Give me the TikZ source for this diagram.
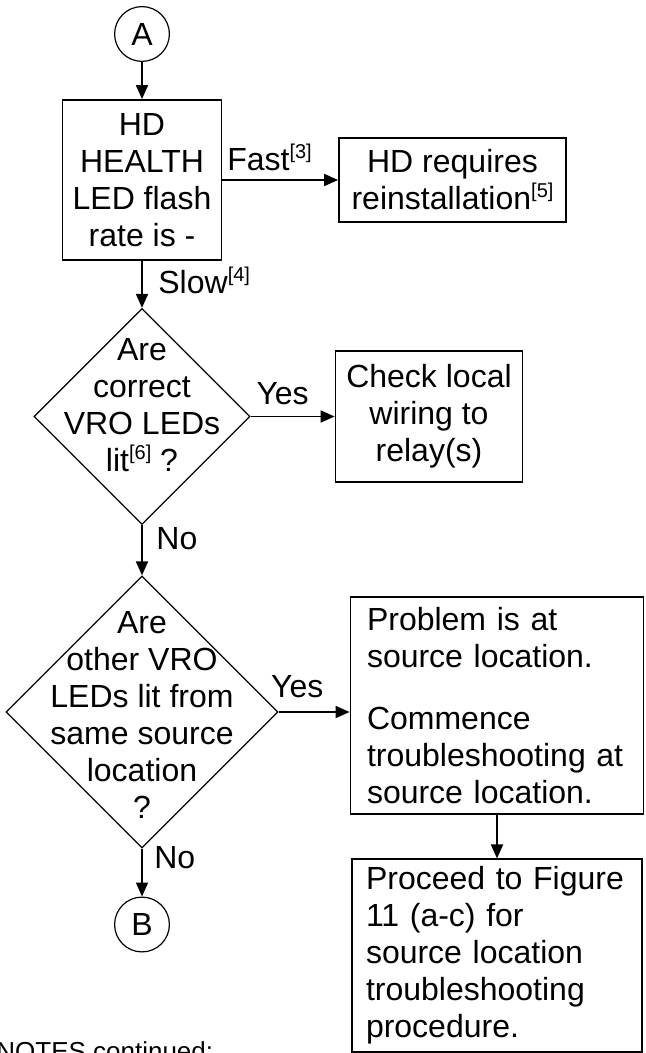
\documentclass[tikz,border=0pt]{standalone}
\usepackage{fontspec}
\setmainfont{Liberation Sans}
\usetikzlibrary{arrows.meta,shapes.geometric}

\newcommand{\refmark}[1]{\raisebox{6pt}{\fontsize{10pt}{10pt}\selectfont #1}}

\begin{document}
\begin{tikzpicture}[>={Triangle[length=7pt,width=6pt]},font=\fontsize{16pt}{18.5pt}\selectfont]

      \tikzstyle{connector}=[circle,draw,line width=0.6pt,minimum size=27.4pt,inner sep=0pt]
      \tikzstyle{block}=[rectangle,draw,line width=0.9pt,align=center,inner sep=0pt]
      \tikzstyle{textblock}=[rectangle,draw,line width=0.9pt,align=left,inner ysep=0pt,inner xsep=8.25pt,
                             execute at begin node={\hyphenpenalty=10000\relax}]
      \tikzstyle{decision}=[diamond,draw,line width=0.6pt,inner sep=0pt,minimum size=108pt]
      \tikzstyle{pre}=[<-,line width=0.9pt]
      \tikzstyle{post}=[->,line width=0.9pt]
      \tikzstyle{tag}=[inner sep=0pt,anchor=base west]

      \useasboundingbox (0,0) rectangle (322.5pt,-526.5pt);

        \node [connector] (a) at (71pt,-17pt) {A}; %A
        \node [block,node distance=73pt,below of=a,minimum width=79.5pt,minimum height=80pt] (hd) {HD\\HEALTH\\LED flash\\rate is -}
            edge [pre] (a);
        \node [block,node distance=155.25pt,right of=hd,minimum width=113.5pt,minimum height=42pt] (req) {HD requires\\reinstallation\refmark{[5]}}
            edge [pre] node [tag,pos=1,xshift=2pt,yshift=4.5pt] {Fast\refmark{[3]}} (hd);

        \node [decision,node distance=118.25pt,below of=hd,
               label={[yshift=5.5pt,align=center]center:Are\\correct\\VRO LEDs\\lit\refmark{[6]} ?}] (q1) {} %first question
            edge [pre] node [tag,pos=1,xshift=7.75pt,yshift=-16.5pt] {Slow\refmark{[4]}} (hd);
        \node [block,node distance=143.5pt,right of=q1,minimum width=93.5pt,minimum height=65.5pt] (chk) {Check local\\wiring to\\relay(s)}
            edge [pre] node [tag,pos=1,xshift=2.5pt,yshift=5.85pt] {Yes} (q1);

        \node [decision,node distance=147.75pt,below of=q1,minimum size=136pt,
               label={[yshift=-1.5pt,align=center]center:Are\\other VRO\\LEDs lit from\\same source\\location\\?}] (q2) {} %second question
            edge [pre] node [tag,pos=1,xshift=6.75pt,yshift=-12.25pt] {No} (q1);
        \node [textblock,node distance=177.5pt,right of=q2,yshift=3.2pt,text width=130pt,minimum height=108.5pt] (prob)
            {Problem is at\\source location.\\[12.5pt]Commence\\troubleshooting at\\source location.};
        \draw [post] (q2.east) -- (q2.east -| prob.west) node [tag,pos=0,xshift=-4.15pt,yshift=7.5pt] {Yes};
        \node [textblock,node distance=125pt,below of=prob,text width=131pt,inner xsep=6.9pt,minimum height=96.25pt] (proc)
            {Proceed to Figure\\11 (a-c) for\\source location\\troubleshooting\\procedure.}
            edge [pre] (prob);

        \node [connector,node distance=106.25pt,below of=q2] (b) {B} %B
            edge [pre] node [tag,pos=1,xshift=5.7pt,yshift=-9.7pt] {No} (q2);

        \node [tag,font=\fontsize{13pt}{15pt}\selectfont] (notes) at (-2pt,-530pt) {NOTES continued:};

    \end{tikzpicture}
\end{document}
